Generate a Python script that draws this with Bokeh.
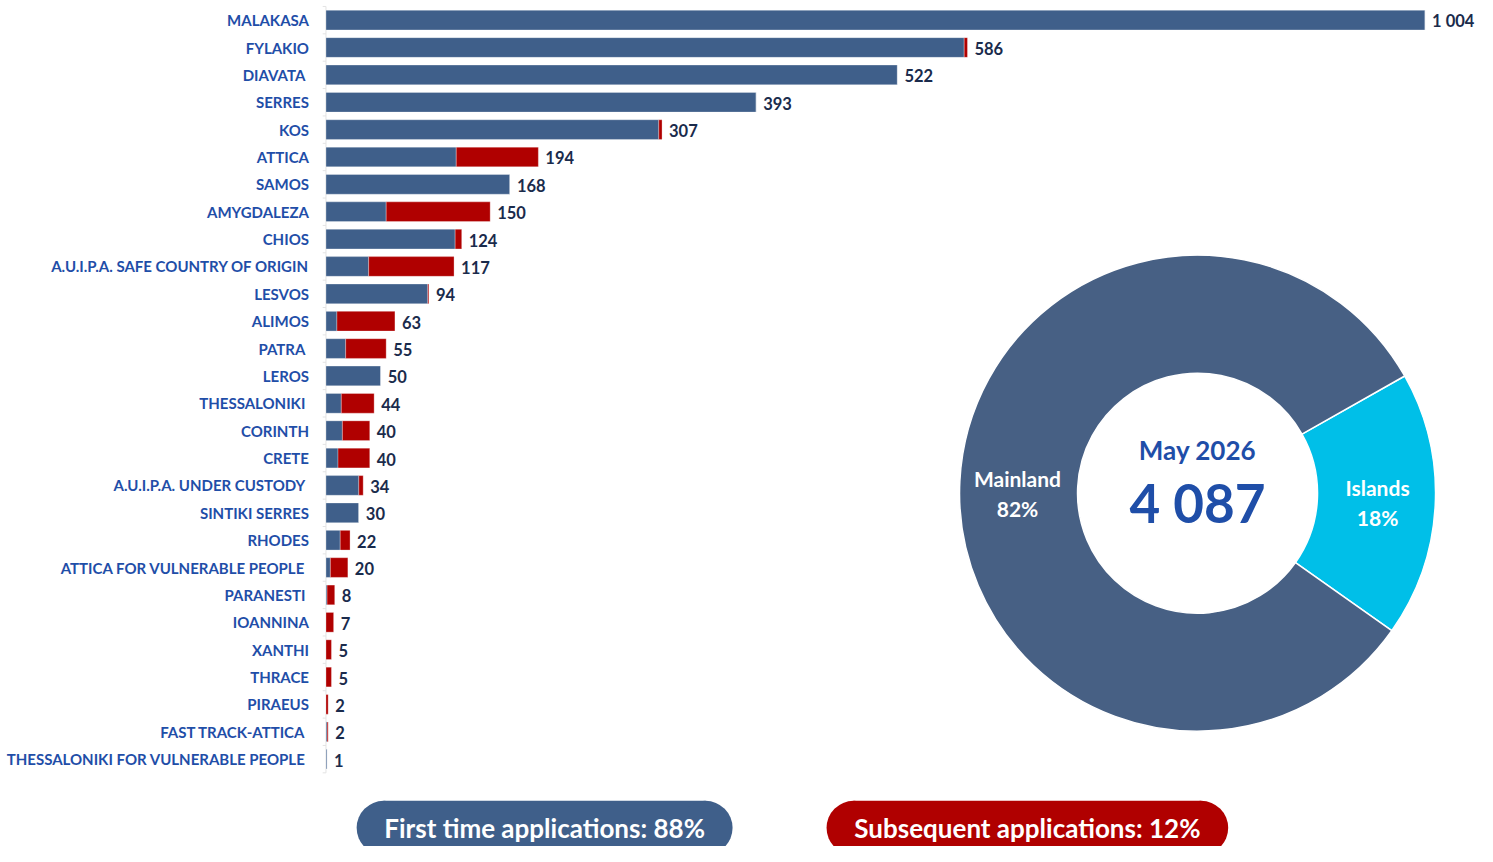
from bokeh.plotting import figure
from bokeh.models import Range1d, ColumnDataSource
from bokeh.core.properties import value
from bokeh.embed import file_html
from bokeh.resources import INLINE
import math

# ---------------- data ----------------
centres = ["MALAKASA", "FYLAKIO", "DIAVATA ", "SERRES", "KOS", "ATTICA", "SAMOS",
           "AMYGDALEZA", "CHIOS", "A.U.I.P.A. SAFE COUNTRY OF ORIGIN", "LESVOS",
           "ALIMOS", "PATRA ", "LEROS", "THESSALONIKI ", "CORINTH", "CRETE",
           "A.U.I.P.A. UNDER CUSTODY ", "SINTIKI SERRES", "RHODES",
           "ATTICA FOR VULNERABLE PEOPLE ", "PARANESTI ", "IOANNINA", "XANTHI",
           "THRACE", "PIRAEUS", "FAST TRACK-ATTICA ", "THESSALONIKI FOR VULNERABLE PEOPLE "]
first_time = [1004, 583, 522, 393, 304, 119, 168, 55, 118, 39, 93, 10, 18, 50, 14, 15,
              11, 30, 30, 13, 4, 1, 0, 0, 0, 0, 1, 1]
subsequent = [0, 3, 0, 0, 3, 75, 0, 95, 6, 78, 1, 53, 37, 0, 30, 25, 29, 4, 0, 9, 16,
              7, 7, 5, 5, 2, 1, 0]
totals = [1004, 586, 522, 393, 307, 194, 168, 150, 124, 117, 94, 63, 55, 50, 44, 40,
          40, 34, 30, 22, 20, 8, 7, 5, 5, 2, 2, 1]
total_labels = ["1 004"] + [str(t) for t in totals[1:]]

region_names = ["Islands", "Mainland"]
region_share = [18, 82]
region_labels = ["Islands\n18%", "Mainland\n82%"]
month_label = "May 2026"
grand_total_label = "4 087"
pill_labels = ["First time applications: 88%", "Subsequent applications: 12%"]

# ---------------- colours ----------------
BLUE = "#3F5F8A"
RED = "#B00000"
CYAN = "#00BFE8"
DONUT_BLUE = "#476084"
LABEL_BLUE = "#1F4EA8"
VALUE_NAVY = "#1A2B4C"
FONT = "Lato"

W, H = 1477, 846
SX = W / 1493.0
SY = H / 862.0


def fx(x):
    return x * SX


def sy(s):
    return H - s * SY


bar0 = fx(329)
px_per_unit = (fx(1440) - bar0) / 1004.0
x_start = (0 - bar0) / px_per_unit
x_end = (W - bar0) / px_per_unit
row = (773 - 20) / 27.0 * SY
y_top = (0 - 20 * SY) / row
y_bot = (H - 20 * SY) / row

p = figure(width=W, height=H, output_backend="svg", toolbar_location=None,
           x_range=Range1d(x_start, x_end), y_range=Range1d(y_bot, y_top),
           x_axis_type=None, y_axis_type=None, min_border=0)
p.outline_line_color = None
p.grid.visible = False
p.background_fill_color = "white"
p.border_fill_color = "white"
p.extra_x_ranges = {"px": Range1d(0, W)}
p.extra_y_ranges = {"py": Range1d(0, H)}

idx = list(range(len(centres)))
src = ColumnDataSource(dict(
    y=idx, name=centres, first=first_time,
    sub_start=first_time,
    sub_end=[f + s for f, s in zip(first_time, subsequent)],
    total=totals, tlabel=total_labels,
))

# faint category axis line
n = len(centres)
p.segment(x0=[0], y0=[-0.5], x1=[0], y1=[n - 0.5], line_color="#E3E3E3", line_width=1)
p.segment(x0=[-3] * (n + 1), x1=[0] * (n + 1),
          y0=[i - 0.5 for i in range(n + 1)], y1=[i - 0.5 for i in range(n + 1)],
          line_color="#E3E3E3", line_width=1)

p.hbar(y="y", left=0, right="first", height=0.72, source=src, fill_color=BLUE,
       line_color="#FFFFFF", line_alpha=0.5, line_width=0.6)
p.hbar(y="y", left="sub_start", right="sub_end", height=0.72, source=src,
       fill_color=RED, line_color="#FFFFFF", line_alpha=0.5, line_width=0.6)

p.text(x=0, y="y", text="name", source=src, x_offset=-17, y_offset=0,
       text_align="right", text_baseline="middle", text_font=value(FONT),
       text_font_style="bold", text_font_size="15px", text_color=LABEL_BLUE)
p.text(x="total", y="y", text="tlabel", source=src, x_offset=7, y_offset=1,
       text_align="left", text_baseline="middle", text_font=value(FONT),
       text_font_style="bold", text_font_size="16.5px", text_color=VALUE_NAVY)

# ---------------- donut ----------------
cx, cy = fx(1210), sy(502)
start0 = math.radians(-35.3)
starts, ends, a = [], [], start0
for s in region_share:
    starts.append(a)
    a += s / 100.0 * 2 * math.pi
    ends.append(a)
dsrc = ColumnDataSource(dict(x=[cx, cx], y=[cy, cy], start=starts, end=ends,
                             color=[CYAN, DONUT_BLUE]))
p.annular_wedge(x="x", y="y", inner_radius=120, outer_radius=238,
                inner_radius_units="screen", outer_radius_units="screen",
                start_angle="start", end_angle="end", fill_color="color",
                line_color="white", line_width=1.5, source=dsrc,
                x_range_name="px", y_range_name="py")

lx = [fx(1392), fx(1028)]
ly = [sy(511), sy(502)]
p.text(x=lx, y=ly, text=region_labels, text_align="center", text_baseline="middle",
       text_font=value(FONT), text_font_style="bold", text_font_size="21px",
       text_color="white", text_line_height=1.2, x_range_name="px", y_range_name="py")

p.text(x=[cx], y=[sy(458)], text=[month_label], text_align="center",
       text_baseline="middle", text_font=value(FONT), text_font_style="bold",
       text_font_size="26px", text_color=LABEL_BLUE, x_range_name="px", y_range_name="py")
p.text(x=[cx], y=[sy(511)], text=[grand_total_label], text_align="center",
       text_baseline="middle", text_font=value(FONT), text_font_style="bold",
       text_font_size="53px", text_color=LABEL_BLUE, x_range_name="px", y_range_name="py")

# ---------------- pills ----------------
pills = [(360, 740, BLUE), (835, 1241, RED)]
pr = 27
pc = sy(843)
for (x0, x1, col), lab in zip(pills, pill_labels):
    a0, a1 = fx(x0), fx(x1)
    p.quad(left=[a0 + pr], right=[a1 - pr], top=[pc + pr], bottom=[pc - pr],
           fill_color=col, line_color=None, x_range_name="px", y_range_name="py")
    p.circle(x=[a0 + pr, a1 - pr], y=[pc, pc], radius=pr, radius_units="screen",
             fill_color=col, line_color=None, x_range_name="px", y_range_name="py")
    p.text(x=[(a0 + a1) / 2], y=[pc], text=[lab], text_align="center",
           text_baseline="middle", text_font=value(FONT), text_font_style="bold",
           text_font_size="26px", text_color="white", x_range_name="px",
           y_range_name="py")

open("out.html", "w").write(file_html(p, INLINE))
